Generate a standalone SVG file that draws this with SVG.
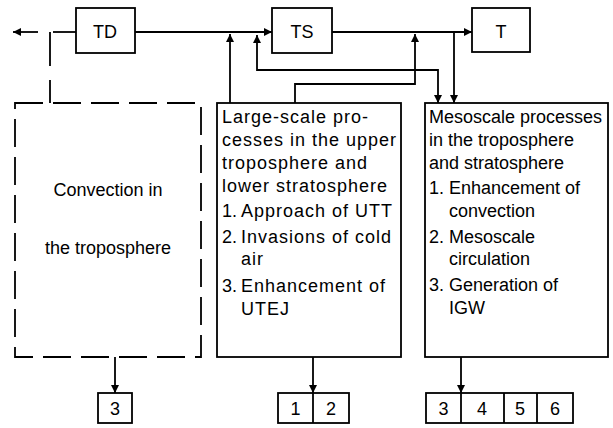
<svg xmlns="http://www.w3.org/2000/svg" width="613" height="428" viewBox="0 0 613 428">
<defs>
<marker id="ah" viewBox="0 0 10 10" refX="10" refY="5" markerWidth="10" markerHeight="8" markerUnits="userSpaceOnUse" orient="auto-start-reverse">
<path d="M0,0 L10,5 L0,10 z" fill="#000"/>
</marker>
<style>
.box{fill:#fff;stroke:#000;stroke-width:1.8}
.dash{fill:none;stroke:#000;stroke-width:1.8;stroke-dasharray:28 10}
.ln{fill:none;stroke:#000;stroke-width:1.8}
.arr{fill:none;stroke:#000;stroke-width:1.8;marker-end:url(#ah)}
text{font-family:"Liberation Sans",Arial,Helvetica,sans-serif;font-size:18px;fill:#000}
.c{text-anchor:middle}
.w{letter-spacing:1px}
</style>
</defs>
<rect width="613" height="428" fill="#fff"/>
<g id="connectors">
<path class="ln" d="M76,32 H53"/>
<path class="arr" d="M38,32 H13"/>
<path class="ln" d="M50,32 V66 M50,80 V103"/>
<path class="arr" d="M135,32 H272"/>
<path class="arr" d="M332,32 H472"/>
<path class="arr" d="M230,103 V34"/>
<path class="arr" d="M295,103 V84 H415 V34"/>
<path class="ln" d="M257,35 V70 H438 V103" marker-start="url(#ah)" marker-end="url(#ah)"/>
<path class="arr" d="M454,32 V103"/>
<path class="arr" d="M115,357 V393"/>
<path class="arr" d="M313,357 V393"/>
<path class="arr" d="M461,357 V393"/>
</g>
<g id="TD"><rect class="box" x="76" y="8" width="59" height="45"/><text class="c" x="105" y="38">TD</text></g>
<g id="TS"><rect class="box" x="272" y="8" width="60" height="45"/><text class="c" x="302" y="38">TS</text></g>
<g id="T"><rect class="box" x="472" y="8" width="58" height="44"/><text class="c" x="501" y="38">T</text></g>
<g id="convection">
<rect class="dash" x="15" y="103" width="186" height="254"/>
<text class="c" x="108" y="196">Convection in</text>
<text class="c" x="108" y="254">the troposphere</text>
</g>
<g id="largescale">
<rect class="box" x="217" y="103" width="184" height="254"/>
<text class="w" x="222" y="123">Large-scale pro-</text>
<text class="w" x="222" y="146">cesses in the upper</text>
<text class="w" x="222" y="169">troposphere and</text>
<text class="w" x="222" y="192">lower stratosphere</text>
<text x="222" y="217">1.</text><text class="w" x="241" y="217">Approach of UTT</text>
<text x="222" y="243">2.</text><text class="w" x="241" y="243">Invasions of cold</text>
<text class="w" x="241" y="265">air</text>
<text x="222" y="292">3.</text><text class="w" x="241" y="292">Enhancement of</text>
<text class="w" x="241" y="315">UTEJ</text>
</g>
<g id="mesoscale">
<rect class="box" x="425" y="103" width="183" height="254"/>
<text x="429" y="123">Mesoscale processes</text>
<text x="429" y="146">in the troposphere</text>
<text x="429" y="169">and stratosphere</text>
<text x="429" y="194">1.</text><text x="449" y="194">Enhancement of</text>
<text x="449" y="217">convection</text>
<text x="429" y="243">2.</text><text x="449" y="243">Mesoscale</text>
<text x="449" y="265">circulation</text>
<text x="429" y="291">3.</text><text x="449" y="291">Generation of</text>
<text x="449" y="314">IGW</text>
</g>
<g id="out-conv"><rect class="box" x="98" y="393" width="34" height="30"/><text class="c" x="115" y="415">3</text></g>
<g id="out-large">
<rect class="box" x="278" y="393" width="71" height="30"/>
<path class="ln" d="M313,393 V423"/>
<text class="c" x="295.5" y="415">1</text><text class="c" x="331" y="415">2</text>
</g>
<g id="out-meso">
<rect class="box" x="426" y="393" width="147" height="30"/>
<path class="ln" d="M461,393 V423 M504,393 V423 M537,393 V423"/>
<text class="c" x="443.5" y="415">3</text><text class="c" x="482" y="415">4</text><text class="c" x="520" y="415">5</text><text class="c" x="555" y="415">6</text>
</g>
</svg>
